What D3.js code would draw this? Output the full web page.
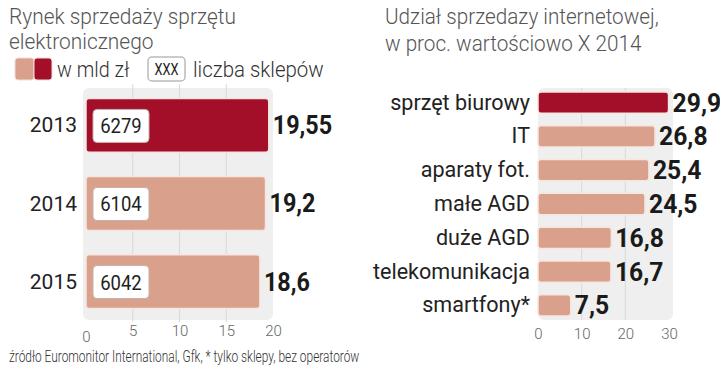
<!DOCTYPE html>
<html>
<head>
<meta charset="utf-8">
<title>Rynek sprzedaży sprzętu elektronicznego</title>
<script src="https://d3js.org/d3.v7.min.js"></script>
<style>
  body { margin: 0; background: #fff; }
  text { font-family: "Roboto", "Liberation Sans", sans-serif; }
</style>
</head>
<body>
<div id="chart"></div>
<script>
// data
var years = ["2013", "2014", "2015"]
var marketValue = [19.55, 19.2, 18.6]
var marketLabels = ["19,55", "19,2", "18,6"]
var shopCount = ["6279", "6104", "6042"]
var leftTicks = [0, 5, 10, 15, 20]

var categories = ["sprzęt biurowy", "IT", "aparaty fot.", "małe AGD", "duże AGD", "telekomunikacja", "smartfony*"]
var shareValue = [29.9, 26.8, 25.4, 24.5, 16.8, 16.7, 7.5]
var shareLabels = ["29,9", "26,8", "25,4", "24,5", "16,8", "16,7", "7,5"]
var rightTicks = [0, 10, 20, 30]

var dark = "#a30f29", light = "#d9a18b", panel = "#efefef", grid = "#d8d8d8"

// squeeze text horizontally around its anchor point (reference uses a condensed face)
function squeeze(sel, k) {
  sel.each(function() {
    var t = d3.select(this), px = +t.attr("x") || 0, py = +t.attr("y") || 0
    t.attr("transform", "translate(" + px + "," + py + ") scale(" + k + ",1) translate(" + (-px) + "," + (-py) + ")")
  })
  return sel
}

var svg = d3.select("#chart").append("svg")
    .attr("width", 720).attr("height", 366)

// ---------- left chart ----------
squeeze(svg.append("text").attr("x", 9).attr("y", 24)
    .style("font-size", "22px").style("font-weight", 300).style("fill", "#555").text("Rynek sprzedaży sprzętu"), 0.95)
squeeze(svg.append("text").attr("x", 9).attr("y", 49)
    .style("font-size", "22px").style("font-weight", 300).style("fill", "#555").text("elektronicznego"), 0.95)

// legend
svg.append("rect").attr("x", 15).attr("y", 58).attr("width", 19).attr("height", 22).attr("rx", 3)
    .style("fill", light).style("stroke", "#f3dcd3")
svg.append("rect").attr("x", 34).attr("y", 58).attr("width", 18).attr("height", 22).attr("rx", 3)
    .style("fill", dark).style("stroke", "#f3dcd3")
squeeze(svg.append("text").attr("x", 57).attr("y", 77)
    .style("font-size", "22px").style("font-weight", 300).style("fill", "#333").text("w mld zł"), 0.9)
svg.append("rect").attr("x", 148).attr("y", 57).attr("width", 37).attr("height", 24).attr("rx", 4)
    .style("fill", "#fff").style("stroke", "#bbb").style("stroke-width", 1.5)
squeeze(svg.append("text").attr("x", 166.5).attr("y", 75).attr("text-anchor", "middle")
    .style("font-size", "16px").style("fill", "#222").text("XXX"), 0.8)
squeeze(svg.append("text").attr("x", 193).attr("y", 77)
    .style("font-size", "22px").style("font-weight", 300).style("fill", "#333").text("liczba sklepów"), 0.93)

var x = d3.scaleLinear().domain([0, 20]).range([86, 273])
var y = d3.scaleBand().domain(years).range([86, 321]).paddingInner(0.31).paddingOuter(0.16)

svg.append("rect").attr("x", 83).attr("y", 88).attr("width", 190).attr("height", 232).attr("rx", 6)
    .style("fill", panel)

svg.selectAll(".lgrid").data(leftTicks.slice(1, 4)).join("line")
    .attr("x1", d => x(d)).attr("x2", d => x(d))
    .attr("y1", 84).attr("y2", 322)
    .style("stroke", grid).style("stroke-width", 1)

var leftAxis = svg.append("g").attr("transform", "translate(0,322)")
    .call(d3.axisBottom(x).tickValues(leftTicks).tickSize(0).tickPadding(0))
leftAxis.select(".domain").remove()
leftAxis.selectAll("text").style("font-size", "15px").style("font-weight", 300).style("fill", "#666")
    .attr("dy", d => d === 0 ? 20 : 14)

svg.selectAll(".lbar").data(years).join("rect")
    .attr("x", x(0)).attr("y", d => y(d))
    .attr("width", (d, i) => x(marketValue[i]) - x(0))
    .attr("height", y.bandwidth()).attr("rx", 3)
    .style("fill", (d, i) => i === 0 ? dark : light)
    .style("stroke", "#f6e6df").style("stroke-width", 1.5)

svg.selectAll(".shopbox").data(years).join("rect")
    .attr("x", 93).attr("y", d => y(d) + y.bandwidth() / 2 - 16)
    .attr("width", 56).attr("height", 33).attr("rx", 4)
    .style("fill", "#fff").style("stroke", "#c8b0a8").style("stroke-width", 1)

squeeze(svg.selectAll(".shop").data(years).join("text")
    .attr("x", 121).attr("y", d => y(d) + y.bandwidth() / 2 + 8)
    .attr("text-anchor", "middle")
    .style("font-size", "21px").style("fill", "#222")
    .text((d, i) => shopCount[i]), 0.88)

svg.selectAll(".year").data(years).join("text")
    .attr("x", 77).attr("y", d => y(d) + y.bandwidth() / 2 + 7)
    .attr("text-anchor", "end")
    .style("font-size", "21px").style("fill", "#222")
    .text(d => d)

squeeze(svg.selectAll(".lval").data(years).join("text")
    .attr("x", (d, i) => x(marketValue[i]) + 4)
    .attr("y", d => y(d) + y.bandwidth() / 2 + 9)
    .style("font-size", "26px").style("font-weight", "bold").style("fill", "#1a1a1a")
    .text((d, i) => marketLabels[i]), 0.9)

// ---------- right chart ----------
squeeze(svg.append("text").attr("x", 385).attr("y", 24)
    .style("font-size", "22px").style("font-weight", 300).style("fill", "#555").text("Udział sprzedazy internetowej,"), 0.94)
squeeze(svg.append("text").attr("x", 385).attr("y", 51)
    .style("font-size", "22px").style("font-weight", 300).style("fill", "#555").text("w proc. wartościowo X 2014"), 0.94)

var x2 = d3.scaleLinear().domain([0, 30]).range([538, 669])
var y2 = d3.scaleBand().domain(categories).range([88, 320]).paddingInner(0.37).paddingOuter(0.12)

svg.append("rect").attr("x", 538).attr("y", 88).attr("width", 135).attr("height", 232).attr("rx", 6)
    .style("fill", panel)

svg.selectAll(".rgrid").data(rightTicks.slice(1, 3)).join("line")
    .attr("x1", d => x2(d)).attr("x2", d => x2(d))
    .attr("y1", 88).attr("y2", 320)
    .style("stroke", grid).style("stroke-width", 1)

var rightAxis = svg.append("g").attr("transform", "translate(0,322)")
    .call(d3.axisBottom(x2).tickValues(rightTicks).tickSize(0).tickPadding(0))
rightAxis.select(".domain").remove()
rightAxis.selectAll("text").style("font-size", "15px").style("font-weight", 300).style("fill", "#666").attr("dy", 17)

svg.selectAll(".rbar").data(categories).join("rect")
    .attr("x", x2(0)).attr("y", d => y2(d))
    .attr("width", (d, i) => x2(shareValue[i]) - x2(0))
    .attr("height", y2.bandwidth()).attr("rx", 3)
    .style("fill", (d, i) => i === 0 ? dark : light)
    .style("stroke", "#f6e6df").style("stroke-width", 1.5)

squeeze(svg.selectAll(".cat").data(categories).join("text")
    .attr("x", 530).attr("y", d => y2(d) + y2.bandwidth() / 2 + 7)
    .attr("text-anchor", "end")
    .style("font-size", "22px").style("fill", "#222")
    .text(d => d), 0.98)

squeeze(svg.selectAll(".rval").data(categories).join("text")
    .attr("x", (d, i) => x2(shareValue[i]) + 4)
    .attr("y", d => y2(d) + y2.bandwidth() / 2 + 9)
    .style("font-size", "26px").style("font-weight", "bold").style("fill", "#1a1a1a")
    .text((d, i) => shareLabels[i]), 0.95)

// footer
squeeze(svg.append("text").attr("x", 9).attr("y", 362)
    .style("font-size", "17px").style("font-weight", 300).style("fill", "#333")
    .text("źródło Euromonitor International, Gfk, * tylko sklepy, bez operatorów"), 0.7)
</script>
</body>
</html>
